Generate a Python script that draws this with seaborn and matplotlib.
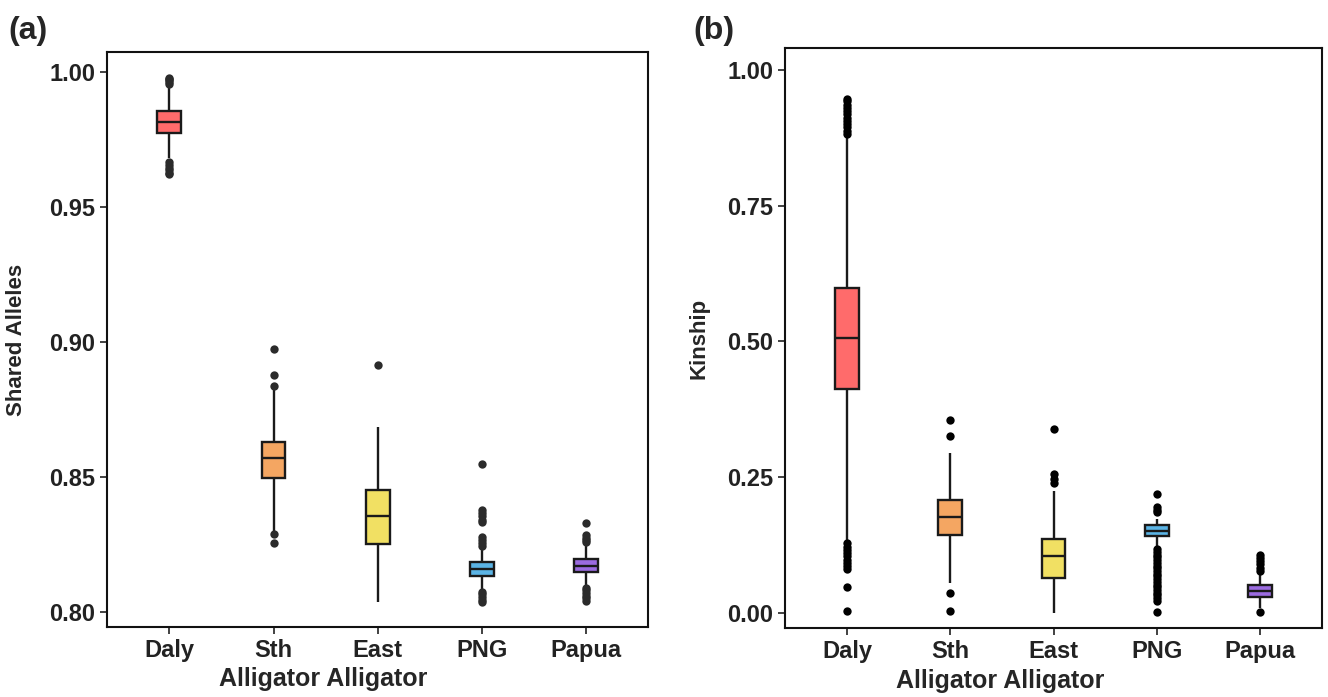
import matplotlib
matplotlib.use("Agg")
import matplotlib.pyplot as plt
import pandas as pd
import seaborn as sns

sns.set_style("ticks")
plt.rcParams['font.family'] = ['Liberation Sans', 'DejaVu Sans']

groups = ["Daly", "Sth", "East", "PNG", "Papua"]
palette = {"Daly": "#FF6B6B", "Sth": "#F4A662", "East": "#F1E063",
           "PNG": "#5BB4E5", "Papua": "#9B6BE0"}

# (a) shared alleles: box summary per group
a_q1 = [0.9775, 0.8495, 0.8251, 0.8134, 0.8148]
a_med = [0.9816, 0.8569, 0.8356, 0.8159, 0.8170]
a_q3 = [0.9857, 0.8631, 0.8452, 0.8184, 0.8195]
a_lo = [0.9681, 0.8297, 0.8038, 0.8081, 0.8094]
a_hi = [0.9952, 0.8825, 0.8686, 0.8236, 0.8254]
a_out = {
    "Daly": [0.9958, 0.9964, 0.9970, 0.9975, 0.9979, 0.9666, 0.9655, 0.9645, 0.9636, 0.9628, 0.9622],
    "Sth": [0.8838, 0.8878, 0.8973, 0.8288, 0.8257],
    "East": [0.8915],
    "PNG": [0.8548, 0.8378, 0.8368, 0.8355, 0.8340, 0.8332, 0.8279, 0.8268, 0.8256, 0.8245,
            0.8075, 0.8065, 0.8055, 0.8045, 0.8035],
    "Papua": [0.8329, 0.8285, 0.8275, 0.8265, 0.8258, 0.8090, 0.8080, 0.8070, 0.8060, 0.8050, 0.8040],
}

# (b) kinship
b_q1 = [0.412, 0.143, 0.064, 0.141, 0.029]
b_med = [0.506, 0.177, 0.105, 0.151, 0.041]
b_q3 = [0.599, 0.207, 0.135, 0.161, 0.052]
b_lo = [0.134, 0.054, 0.000, 0.122, 0.009]
b_hi = [0.876, 0.294, 0.224, 0.172, 0.073]
b_out = {
    "Daly": [0.882, 0.888, 0.894, 0.900, 0.906, 0.912, 0.918, 0.924, 0.930, 0.936, 0.942, 0.946,
             0.128, 0.122, 0.116, 0.110, 0.104, 0.098, 0.092, 0.086, 0.080, 0.047, 0.004],
    "Sth": [0.355, 0.325, 0.036, 0.004],
    "East": [0.338, 0.255, 0.247, 0.239],
    "PNG": [0.219, 0.194, 0.190, 0.186,
            0.117, 0.112, 0.107, 0.102, 0.097, 0.092, 0.087, 0.082, 0.077, 0.072, 0.067,
            0.062, 0.057, 0.052, 0.047, 0.042, 0.037, 0.032, 0.027, 0.022, 0.002],
    "Papua": [0.107, 0.101, 0.095, 0.089, 0.083, 0.077, 0.002],
}


def box_frame(q1, med, q3, lo, hi):
    # rows whose quartiles / extremes reproduce the read-off box summary
    rows = []
    for g, a, m, b, l, h in zip(groups, q1, med, q3, lo, hi):
        vals = [l] + [a] * 10 + [m] * 10 + [b] * 10 + [h]
        rows += [(g, v) for v in vals]
    return pd.DataFrame(rows, columns=["group", "value"])


def out_frame(out):
    rows = [(g, v) for g in groups for v in out[g]]
    return pd.DataFrame(rows, columns=["group", "value"])


def draw(ax, q1, med, q3, lo, hi, out, pt_color):
    sns.boxplot(data=box_frame(q1, med, q3, lo, hi), x="group", y="value", hue="group",
                order=groups, hue_order=groups, palette=palette, saturation=1,
                dodge=False, legend=False, whis=(0, 100), showfliers=False,
                showcaps=False, width=0.23, linecolor="#1a1a1a", linewidth=1.7, ax=ax)
    sns.stripplot(data=out_frame(out), x="group", y="value", order=groups, jitter=False,
                  color=pt_color, size=6, ax=ax)
    ax.set_xlim(-0.6, 4.6)
    for s in ax.spines.values():
        s.set_visible(True)
        s.set_linewidth(1.5)
        s.set_color("#111111")
    ax.tick_params(axis="both", length=5, width=1.3, color="#333333",
                   labelsize=17, labelcolor="#222222")
    for lab in ax.get_xticklabels() + ax.get_yticklabels():
        lab.set_fontweight("bold")
    ax.set_xlabel("Alligator Alligator", fontsize=18, fontweight="bold")
    ax.xaxis.set_label_coords(0.40, -0.07)


fig = plt.figure(figsize=(13.28, 6.97), dpi=100)
ax1 = fig.add_axes([0.0806, 0.1004, 0.4074, 0.8246])
ax2 = fig.add_axes([0.5911, 0.0990, 0.4044, 0.8320])

draw(ax1, a_q1, a_med, a_q3, a_lo, a_hi, a_out, "#2b2b2b")
ax1.set_ylim(0.7944, 1.0074)
ax1.set_yticks([0.80, 0.85, 0.90, 0.95, 1.00])
ax1.set_yticklabels(["0.80", "0.85", "0.90", "0.95", "1.00"], fontweight="bold")
ax1.set_ylabel("Shared Alleles", fontsize=16, fontweight="bold")
ax1.yaxis.set_label_coords(-0.148, 0.5)

draw(ax2, b_q1, b_med, b_q3, b_lo, b_hi, b_out, "#000000")
ax2.set_ylim(-0.028, 1.04)
ax2.set_yticks([0.0, 0.25, 0.5, 0.75, 1.0])
ax2.set_yticklabels(["0.00", "0.25", "0.50", "0.75", "1.00"], fontweight="bold")
ax2.set_ylabel("Kinship", fontsize=16, fontweight="bold")
ax2.yaxis.set_label_coords(-0.14, 0.5)

fig.text(0.006, 0.955, "(a)", fontsize=23, fontweight="bold", va="center")
fig.text(0.522, 0.955, "(b)", fontsize=23, fontweight="bold", va="center")

fig.savefig("out.png", dpi=100)
